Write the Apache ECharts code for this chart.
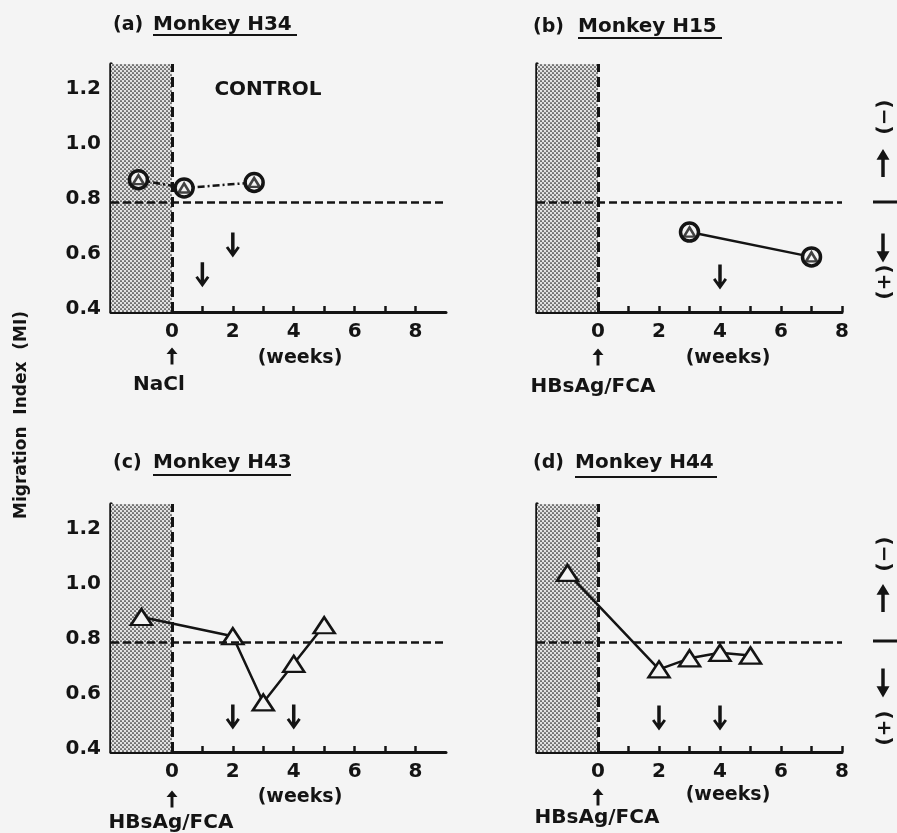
<!DOCTYPE html>
<html>
<head>
<meta charset="utf-8">
<script src="https://cdn.jsdelivr.net/npm/echarts@6/dist/echarts.min.js"></script>
<style>
html,body{margin:0;padding:0;background:#f4f4f4;}
#chart{width:897px;height:833px;}
</style>
</head>
<body>
<div id="chart"></div>
<script>
// ---- data ----
const panelLetters = ['(a)', '(b)', '(c)', '(d)'];
const monkeyNames = ['Monkey H34', 'Monkey H15', 'Monkey H43', 'Monkey H44'];
const treatments = ['NaCl', 'HBsAg/FCA', 'HBsAg/FCA', 'HBsAg/FCA'];

const weeksA = [-1.1, 0.4, 2.7];
const miA    = [0.88, 0.85, 0.87];
const weeksB = [3, 7];
const miB    = [0.69, 0.60];
const weeksC = [-1, 2, 3, 4, 5];
const miC    = [0.89, 0.82, 0.58, 0.72, 0.86];
const weeksD = [-1, 2, 3, 4, 5];
const miD    = [1.05, 0.70, 0.74, 0.76, 0.75];

// booster arrows (week, level of arrow centre)
const boostWeeksA = [1, 2];
const boostLevelA = [0.535, 0.643];
const boostWeeksB = [4];
const boostLevelB = [0.527];
const boostWeeksC = [2, 4];
const boostLevelC = [0.527, 0.527];
const boostWeeksD = [2, 4];
const boostLevelD = [0.523, 0.523];

const yTickLabels = [0.4, 0.6, 0.8, 1.0, 1.2];
const yMinorTicks = [0.5, 0.6, 0.7, 0.8, 0.9, 1.0, 1.1, 1.2];
const xTickLabels = [0, 2, 4, 6, 8];
const xMinorTicks = [1, 2, 3, 4, 5, 6, 7, 8];
const cutoffMI = 0.8;
const preImmuneStart = -2;
const immunizationWeek = 0;

// ---- styling ----
const BG = '#f4f4f4';
const INK = '#141414';
const FONT = '"DejaVu Sans", sans-serif';

function stipple() {
  const c = document.createElement('canvas');
  c.width = 4; c.height = 4;
  const g = c.getContext('2d');
  g.fillStyle = '#e2e2e2';
  g.fillRect(0, 0, 4, 4);
  g.fillStyle = '#1a1a1a';
  g.beginPath(); g.arc(1, 1, 0.85, 0, Math.PI * 2); g.fill();
  g.beginPath(); g.arc(3, 3, 0.85, 0, Math.PI * 2); g.fill();
  return c;
}
const stip = stipple();

const pair = (xs, ys) => xs.map((x, i) => [x, ys[i]]);
const ARROW_DOWN = 'path://M4.5,0 L4.5,16.25 L2,12.5 L0,14 L6,23 L12,14 L10,12.5 L7.5,16.25 L7.5,0 Z';

const panels = [
  { pts: pair(weeksA, miA), boost: pair(boostWeeksA, boostLevelA), xMax: 9, ring: true, dash: [7, 3, 2, 3] },
  { pts: pair(weeksB, miB), boost: pair(boostWeeksB, boostLevelB), xMax: 8, ring: true, dash: 'solid' },
  { pts: pair(weeksC, miC), boost: pair(boostWeeksC, boostLevelC), xMax: 9, ring: false, dash: 'solid' },
  { pts: pair(weeksD, miD), boost: pair(boostWeeksD, boostLevelD), xMax: 8, ring: false, dash: 'solid' }
];

const grids = [
  { left: 111, top: 64, width: 335, height: 248 },
  { left: 537, top: 64, width: 305, height: 248 },
  { left: 111, top: 504, width: 335, height: 248 },
  { left: 537, top: 504, width: 305, height: 248 }
];

const xAxes = [], yAxes = [], series = [];
panels.forEach((p, i) => {
  xAxes.push({
    type: 'value', gridIndex: i, min: preImmuneStart, max: p.xMax,
    splitLine: { show: false },
    axisLine: { onZero: false, lineStyle: { color: INK, width: 3 } },
    axisTick: { inside: true, length: 6, customValues: xMinorTicks, lineStyle: { color: INK, width: 2.5 } },
    axisLabel: { customValues: xTickLabels, margin: 10, color: INK, fontFamily: FONT, fontWeight: 'bold', fontSize: 20 }
  });
  yAxes.push({
    type: 'value', gridIndex: i, min: 0.4, max: 1.3,
    splitLine: { show: false },
    axisLine: { onZero: false, lineStyle: { color: INK, width: 3.5 } },
    axisTick: { inside: true, length: 5, customValues: yMinorTicks, lineStyle: { color: INK, width: 2.5 } },
    axisLabel: { show: i % 2 === 0, customValues: yTickLabels, margin: 10, color: INK, fontFamily: FONT, fontWeight: 'bold', fontSize: 20,
      formatter: v => '{v|' + v.toFixed(1) + '}',
      rich: { v: { fontFamily: FONT, fontWeight: 'bold', fontSize: 20, color: INK, padding: [0, 0, 6, 0] } } }
  });
  series.push({
    type: 'line', xAxisIndex: i, yAxisIndex: i, data: p.pts, z: 3,
    lineStyle: { color: INK, width: 2.5, type: p.dash },
    symbol: p.ring ? 'circle' : 'triangle',
    symbolSize: p.ring ? 18 : [21, 16],
    itemStyle: { color: BG, borderColor: INK, borderWidth: p.ring ? 3.5 : 2.5 },
    markArea: {
      silent: true,
      itemStyle: { color: { image: stip, repeat: 'repeat' }, opacity: 1 },
      data: [[{ xAxis: preImmuneStart, yAxis: 0.4 }, { xAxis: immunizationWeek, yAxis: 1.3 }]]
    },
    markLine: {
      silent: true, symbol: ['none', 'none'], label: { show: false },
      data: [
        { yAxis: cutoffMI, lineStyle: { color: INK, type: [8, 4], width: 2.5 } },
        { xAxis: immunizationWeek, lineStyle: { color: INK, type: [10, 5], width: 3 } }
      ]
    }
  });
  if (p.ring) {
    series.push({
      type: 'scatter', xAxisIndex: i, yAxisIndex: i, data: p.pts, z: 4,
      symbol: 'triangle', symbolSize: [11, 9],
      itemStyle: { color: BG, borderColor: INK, borderWidth: 2.5 }
    });
  }
  series.push({
    type: 'scatter', xAxisIndex: i, yAxisIndex: i, data: p.boost, z: 4,
    symbol: ARROW_DOWN, symbolSize: [14, 25], symbolKeepAspect: false,
    itemStyle: { color: INK, opacity: 1 }
  });
});

// ---- text / decorations ----
const g = [];
function txt(text, x, y, size, opts) {
  opts = opts || {};
  g.push({
    type: 'text', x: x, y: y, rotation: opts.rot || 0, z: 10,
    style: { text: text, font: (opts.weight || 'bold') + ' ' + size + 'px ' + FONT, fill: INK,
      align: opts.align || 'center', verticalAlign: 'middle' }
  });
}
function hline(x1, x2, y, w) {
  g.push({ type: 'line', z: 10, shape: { x1: x1, y1: y, x2: x2, y2: y }, style: { stroke: INK, lineWidth: w || 2 } });
}
// filled-head arrow as polygon, in a 12x26 unit box
const ARROW_UP_PTS = [[6,0],[12,10],[7.6,10],[7.6,26],[4.4,26],[4.4,10],[0,10]];
function arrowPoly(x, y, w, h, up) {
  const pts = ARROW_UP_PTS.map(p => {
    const px = x - w / 2 + p[0] / 12 * w;
    const py = up ? (y - h / 2 + p[1] / 26 * h) : (y + h / 2 - p[1] / 26 * h);
    return [px, py];
  });
  g.push({ type: 'polygon', z: 10, shape: { points: pts }, style: { fill: INK } });
}

// titles
const titlePos = [
  { lx: 113, mx: 153, mEnd: 297, y: 25, uy: 35 },
  { lx: 533, mx: 578, mEnd: 722, y: 27, uy: 38 },
  { lx: 113, mx: 153, mEnd: 291, y: 463, uy: 475 },
  { lx: 533, mx: 575, mEnd: 717, y: 463, uy: 477 }
];
titlePos.forEach((t, i) => {
  txt(panelLetters[i], t.lx, t.y, 19, { align: 'left' });
  txt(monkeyNames[i], t.mx, t.y, 20, { align: 'left' });
  hline(t.mx, t.mEnd, t.uy, 2.2);
});

txt('CONTROL', 268, 90, 20);

// under-axis labels
const under = [
  { x0: 172, wx: 300, wy: 358, ay: 356, tx: 159, ty: 385 },
  { x0: 598, wx: 728, wy: 358, ay: 357, tx: 593, ty: 387 },
  { x0: 172, wx: 300, wy: 797, ay: 799, tx: 171, ty: 823 },
  { x0: 598, wx: 728, wy: 795, ay: 797, tx: 597, ty: 818 }
];
under.forEach((u, i) => {
  txt('(weeks)', u.wx, u.wy, 19);
  arrowPoly(u.x0, u.ay, 11, 17, true);
  txt(treatments[i], u.tx, u.ty, 20);
});

// right-hand (−)/(+) legends
[{ top: 117, up: 163, mid: 202, dn: 248, bot: 282 }, { top: 554, up: 598, mid: 641, dn: 683, bot: 728 }].forEach(r => {
  txt('(\u2212)', 883, r.top, 20, { rot: -Math.PI / 2 });
  arrowPoly(883, r.up, 13, 28, true);
  hline(873, 897, r.mid, 3);
  arrowPoly(883, r.dn, 13, 29, false);
  txt('(+)', 883, r.bot, 20, { rot: -Math.PI / 2 });
});

txt('Migration  Index  (MI)', 22, 415, 17, { rot: Math.PI / 2 });

const chart = echarts.init(document.getElementById('chart'), null, { renderer: 'canvas' });
chart.setOption({
  backgroundColor: BG,
  animation: false,
  grid: grids.map(gr => Object.assign({ containLabel: false }, gr)),
  xAxis: xAxes,
  yAxis: yAxes,
  series: series,
  graphic: g
});
</script>
</body>
</html>
